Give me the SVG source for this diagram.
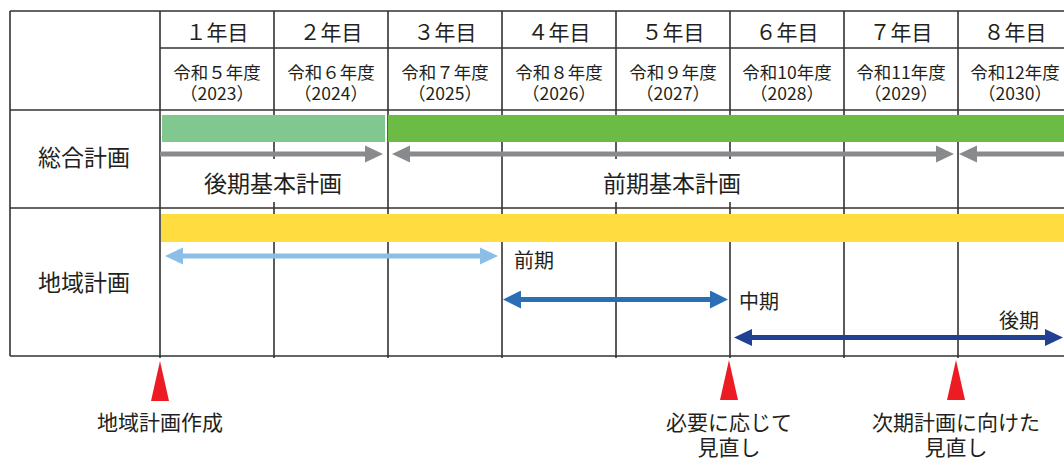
<svg xmlns="http://www.w3.org/2000/svg" width="1064" height="459" viewBox="0 0 1064 459">
<style>
text{font-family:"Noto Sans CJK JP","Noto Sans",sans-serif;fill:#231F20;dominant-baseline:central}
.grid{stroke:#333;stroke-width:1.6;fill:none}
.yr{font-size:21px;text-anchor:middle}
.rw{font-size:17.5px;text-anchor:middle}
.row{font-size:23px;text-anchor:middle}
.per{font-size:20px}
.note{font-size:21px;text-anchor:middle}
.arr{stroke-width:5;fill:none}
.tri{fill:#ED1C24}
</style>
<defs>
<marker id="hGray" markerUnits="userSpaceOnUse" markerWidth="18" markerHeight="18" viewBox="0 -9 18 18" refX="1" refY="0" orient="auto-start-reverse"><path d="M0,-8.5 L18,0 L0,8.5z" fill="#898A8D"/></marker>
<marker id="hLight" markerUnits="userSpaceOnUse" markerWidth="18" markerHeight="18" viewBox="0 -9 18 18" refX="1" refY="0" orient="auto-start-reverse"><path d="M0,-8.5 L18,0 L0,8.5z" fill="#8BBFE7"/></marker>
<marker id="hBlue" markerUnits="userSpaceOnUse" markerWidth="18" markerHeight="18" viewBox="0 -9 18 18" refX="1" refY="0" orient="auto-start-reverse"><path d="M0,-9 L18,0 L0,9z" fill="#2C6DB7"/></marker>
<marker id="hNavy" markerUnits="userSpaceOnUse" markerWidth="18" markerHeight="18" viewBox="0 -9 18 18" refX="1" refY="0" orient="auto-start-reverse"><path d="M0,-8.5 L18,0 L0,8.5z" fill="#213F93"/></marker>
</defs>
<rect width="1064" height="459" fill="#fff"/>

<g id="table" class="grid">
<path d="M10,11 H1064 M160,48 H1064 M10,110 H1064 M10,208 H1064 M10,356 H1064"/>
<path d="M10,11 V356 M160,11 V358 M274,11 V358 M388,11 V358 M502,11 V358 M616,11 V358 M730,11 V358 M844,11 V358 M958,11 V358"/>
</g>

<g id="header">
<text class="yr" x="217" y="31">１年目</text>
<text class="yr" x="331" y="31">２年目</text>
<text class="yr" x="445" y="31">３年目</text>
<text class="yr" x="559" y="31">４年目</text>
<text class="yr" x="673" y="31">５年目</text>
<text class="yr" x="787" y="31">６年目</text>
<text class="yr" x="901" y="31">７年目</text>
<text class="yr" x="1015" y="31">８年目</text>
<text class="rw"><tspan x="217" y="70.5">令和５年度</tspan><tspan x="217" y="92">（2023）</tspan></text>
<text class="rw"><tspan x="331" y="70.5">令和６年度</tspan><tspan x="331" y="92">（2024）</tspan></text>
<text class="rw"><tspan x="445" y="70.5">令和７年度</tspan><tspan x="445" y="92">（2025）</tspan></text>
<text class="rw"><tspan x="559" y="70.5">令和８年度</tspan><tspan x="559" y="92">（2026）</tspan></text>
<text class="rw"><tspan x="673" y="70.5">令和９年度</tspan><tspan x="673" y="92">（2027）</tspan></text>
<text class="rw"><tspan x="787" y="70.5">令和10年度</tspan><tspan x="787" y="92">（2028）</tspan></text>
<text class="rw"><tspan x="901" y="70.5">令和11年度</tspan><tspan x="901" y="92">（2029）</tspan></text>
<text class="rw"><tspan x="1015" y="70.5">令和12年度</tspan><tspan x="1015" y="92">（2030）</tspan></text>
</g>

<g id="sogo">
<text class="row" x="84" y="156">総合計画</text>
<rect x="162" y="115" width="223" height="27" fill="#80C88F"/>
<rect x="388" y="115" width="676" height="27" fill="#6CBB44"/>
</g>
<g id="kouki-kihon">
<rect x="164" y="159" width="220" height="43" fill="#fff"/>
<text class="row" x="273" y="182">後期基本計画</text>
</g>
<g id="zenki-kihon">
<rect x="506" y="159" width="334" height="43" fill="#fff"/>
<text class="row" x="672" y="182">前期基本計画</text>
</g>

<g id="chiiki">
<text class="row" x="84" y="281">地域計画</text>
<rect x="161" y="214" width="903" height="28" fill="#FFDC3F"/>
</g>
<g id="zenki"><text class="per" x="514" y="259">前期</text></g>
<g id="chuki"><text class="per" x="739" y="300">中期</text></g>
<g id="kouki"><text class="per" x="999" y="319">後期</text></g>

<g id="connectors">
<path class="arr" stroke="#898A8D" d="M160,154 H366" marker-end="url(#hGray)"/>
<path class="arr" stroke="#898A8D" d="M409,154 H937" marker-start="url(#hGray)" marker-end="url(#hGray)"/>
<path class="arr" stroke="#898A8D" d="M976,154 H1064" marker-start="url(#hGray)"/>
<path class="arr" stroke="#8BBFE7" d="M182,256 H481" marker-start="url(#hLight)" marker-end="url(#hLight)"/>
<path class="arr" stroke="#2C6DB7" d="M520,299.5 H711" marker-start="url(#hBlue)" marker-end="url(#hBlue)"/>
<path class="arr" stroke="#213F93" d="M751,337.5 H1046" marker-start="url(#hNavy)" marker-end="url(#hNavy)"/>
</g>

<g id="m-sakusei">
<polygon class="tri" points="160,361 169,401 151,401"/>
<text class="note" x="160" y="421">地域計画作成</text>
</g>
<g id="m-minaoshi1">
<polygon class="tri" points="729,360 738,400 720,400"/>
<text class="note"><tspan x="729" y="421">必要に応じて</tspan><tspan x="729" y="446">見直し</tspan></text>
</g>
<g id="m-minaoshi2">
<polygon class="tri" points="956,360 965,400 947,400"/>
<text class="note"><tspan x="956" y="421">次期計画に向けた</tspan><tspan x="956" y="446">見直し</tspan></text>
</g>
</svg>
